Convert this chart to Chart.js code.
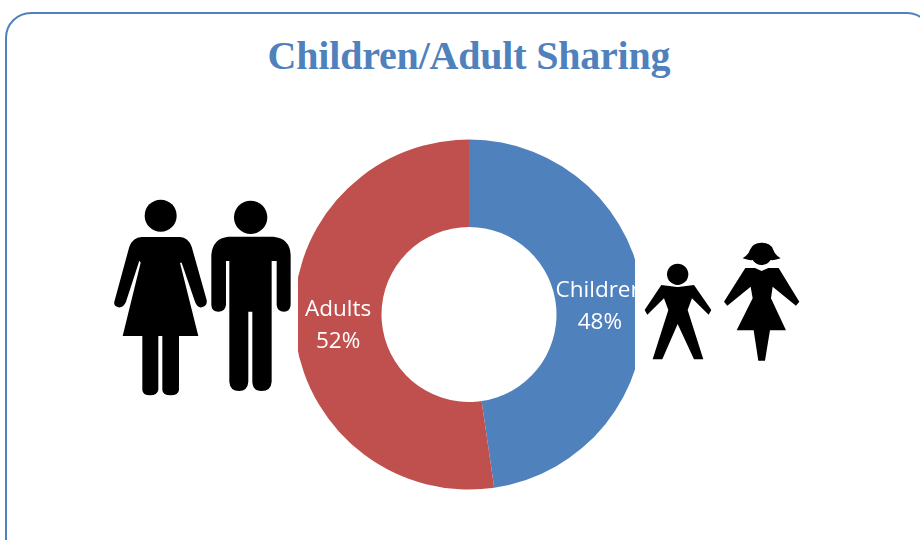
<!DOCTYPE html>
<html lang="en">
<head>
    <meta charset="UTF-8">
    <title>Children/Adult Sharing</title>
    <script src="https://cdn.jsdelivr.net/npm/chart.js"></script>
    <style>
        html, body { margin: 0; padding: 0; background: #fff; width: 920px; height: 540px; overflow: hidden; }
        #card { position: absolute; left: 5px; top: 12px; width: 928px; height: 600px; box-sizing: border-box; border: 2px solid #4f81bd; border-radius: 26px; }
        #title { position: absolute; left: 0; top: 32px; width: 938px; text-align: center; font: bold 40px "Liberation Serif", serif; letter-spacing: -0.2px; color: #4f81bd; white-space: nowrap; }
        #clip { position: absolute; left: 298px; top: 130px; width: 337px; height: 370px; overflow: hidden; }
        #donut { position: absolute; left: -4px; top: 9px; }
        #icons { position: absolute; left: 0; top: 0; }
    </style>
</head>
<body>
    <div id="card"></div>
    <div id="title">Children/Adult Sharing</div>

    <!-- people pictograms either side of the ring -->
    <svg id="icons" width="920" height="540">
        <g transform="translate(100,190) scale(0.3333)" fill="#000">
            <circle cx="182" cy="77" r="48"/>
            <path d="M125 141 L240 141 Q265 143 275 170 L320 330 Q323 348 305 352 Q292 354 285 335 L245 218 L240 218 L295 438 L237 438 L237 600 Q235 616 212 616 Q188 616 187 600 L187 438 L175 438 L175 600 Q172 616 150 616 Q128 616 127 600 L127 438 L68 438 L122 218 L118 212 L78 335 Q70 354 55 352 Q40 348 43 335 L88 170 Q98 143 125 141 Z"/>
            <circle cx="452" cy="82" r="50"/>
            <path d="M385 140 H520 Q570 145 572 195 V345 Q570 365 552 365 Q532 365 530 345 V213 H515 V575 Q513 603 485 603 Q458 603 457 575 V365 H445 V575 Q443 603 417 603 Q390 603 388 575 V213 H378 V345 Q375 365 355 365 Q335 365 334 345 V195 Q338 145 385 140 Z"/>
        </g>
        <g transform="translate(540,230) scale(0.3333)" fill="#000">
            <circle cx="413" cy="133" r="32"/>
            <path d="M364 165 L405 170 Q413 172 421 170 L462 165 L514 240 L506 254 L456 205 L443 240 L490 388 L462 388 L413 282 L367 388 L338 388 L385 240 L372 205 L322 254 L314 240 Z"/>
            <path d="M608 85 Q626 74 631 58 Q638 38 665 38 Q692 38 699 58 Q704 74 722 85 Q704 92 692 90 Q682 105 665 105 Q648 105 638 90 Q626 92 608 85 Z"/>
            <path d="M616 114 L645 114 L665 123 L685 114 L716 114 L778 215 L768 227 L698 170 L693 205 L738 301 L690 301 L675 392 L655 392 L641 301 L590 301 L638 205 L632 170 L562 227 L552 215 Z"/>
        </g>
    </svg>

    <div id="clip"><canvas id="donut" width="350" height="351"></canvas></div>

    <script>
        const categories = ['Children', 'Adults'];
        const shares = [47.7, 52.3];
        const sliceColors = ['#4f81bd', '#c0504d'];

        // category name and rounded percent in white, centred on each ring segment
        const sliceLabels = {
            id: 'sliceLabels',
            afterDatasetsDraw(chart) {
                const ctx = chart.ctx;
                ctx.save();
                ctx.fillStyle = '#fff';
                ctx.font = '22.5px "Open Sans", sans-serif';
                ctx.textAlign = 'center';
                ctx.textBaseline = 'middle';
                chart.getDatasetMeta(0).data.forEach((arc, i) => {
                    const pos = arc.getCenterPoint();
                    ctx.fillText(categories[i], pos.x, pos.y - 14);
                    ctx.fillText(Math.round(shares[i]) + '%', pos.x, pos.y + 18);
                });
                ctx.restore();
            }
        };

        new Chart(document.getElementById('donut'), {
            type: 'doughnut',
            data: {
                labels: categories,
                datasets: [{
                    data: shares,
                    backgroundColor: sliceColors,
                    borderWidth: 0
                }]
            },
            options: {
                responsive: false,
                animation: false,
                cutout: '50%',
                plugins: { legend: { display: false }, tooltip: { enabled: false } }
            },
            plugins: [sliceLabels]
        });
    </script>
</body>
</html>
